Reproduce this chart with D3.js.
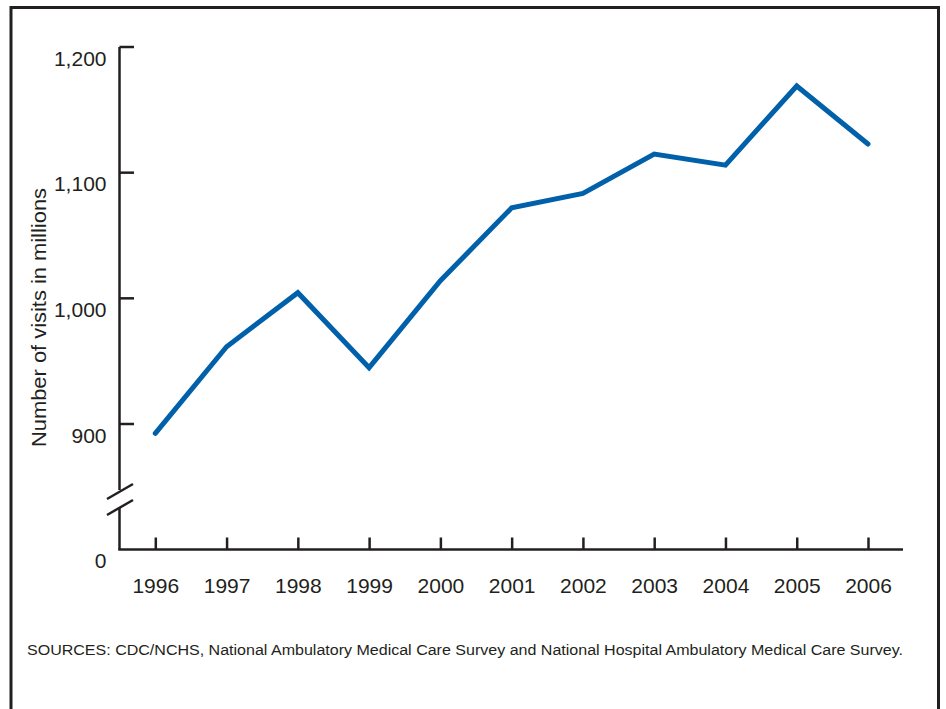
<!DOCTYPE html>
<html>
<head>
<meta charset="utf-8">
<script src="https://cdn.jsdelivr.net/npm/d3@7"></script>
<style>
  body { margin: 0; background: #fff; }
  svg { display: block; font-family: "Liberation Sans", Arial, Helvetica, sans-serif; }
</style>
</head>
<body>
<svg id="chart" width="946" height="709"></svg>
<script>
var years = [1996, 1997, 1998, 1999, 2000, 2001, 2002, 2003, 2004, 2005, 2006];
var visits = [892.5, 961.5, 1004.5, 944.8, 1014, 1072, 1083.5, 1114.8, 1106, 1169, 1122.8];
var yTicks = [900, 1000, 1100, 1200];
var sourceText = "SOURCES: CDC/NCHS, National Ambulatory Medical Care Survey and National Hospital Ambulatory Medical Care Survey.";
var yLabel = "Number of visits in millions";

var ink = "#231f20";
var svg = d3.select("#chart");

//outer frame, open at the bottom
svg.append("path")
    .attr("d", "M11,712V7.5H938.5V712")
    .attr("fill", "none")
    .attr("stroke", ink)
    .attr("stroke-width", 3);

var x = d3.scaleLinear().domain([1996, 2006]).range([155.3, 868]);
var y = d3.scaleLinear().domain([900, 1200]).range([424, 47]);
var axisX = 119.5;
var baseY = 549.5;

//y axis line with a break above zero
svg.append("path")
    .attr("d", "M" + axisX + "," + y(1200) + "V490 M" + axisX + ",507V" + baseY)
    .attr("fill", "none").attr("stroke", ink).attr("stroke-width", 2.5);
svg.append("path")
    .attr("d", "M107,499L133,484 M107,515L133,500")
    .attr("fill", "none").attr("stroke", ink).attr("stroke-width", 2.5);

//y ticks pointing inward
var yt = svg.append("g").selectAll("g").data(yTicks).enter().append("g");
yt.append("line")
    .attr("x1", axisX).attr("x2", 134)
    .attr("y1", function(d) { return y(d); })
    .attr("y2", function(d) { return y(d); })
    .attr("stroke", ink).attr("stroke-width", 2.5);
yt.append("text")
    .attr("x", 106.5)
    .attr("y", function(d) { return y(d) + 18.5; })
    .attr("text-anchor", "end")
    .attr("font-size", 21)
    .attr("fill", ink)
    .text(function(d) { return d3.format(",")(d); });
svg.append("text")
    .attr("x", 106.5).attr("y", baseY + 18.5)
    .attr("text-anchor", "end")
    .attr("font-size", 21)
    .attr("fill", ink)
    .text("0");

//x axis
var xAxis = d3.axisBottom(x)
    .tickValues(years)
    .tickFormat(d3.format("d"))
    .tickSizeInner(-12)
    .tickSizeOuter(0)
    .tickPadding(28.5);
var gx = svg.append("g").attr("transform", "translate(0," + baseY + ")").call(xAxis);
gx.select(".domain").remove();
gx.selectAll(".tick line").attr("stroke", ink).attr("stroke-width", 2.5);
gx.selectAll(".tick text")
    .attr("font-size", 21)
    .attr("font-family", "Liberation Sans, Arial, sans-serif")
    .attr("fill", ink);
svg.append("line")
    .attr("x1", axisX - 1.25).attr("x2", 903)
    .attr("y1", baseY).attr("y2", baseY)
    .attr("stroke", ink).attr("stroke-width", 2.5);

//y label
svg.append("text")
    .attr("transform", "translate(45.5,317.5) rotate(-90)")
    .attr("text-anchor", "middle")
    .attr("font-size", 21)
    .attr("fill", ink)
    .attr("textLength", 259)
    .attr("lengthAdjust", "spacingAndGlyphs")
    .text(yLabel);

//data line
var line = d3.line()
    .x(function(d, i) { return x(years[i]); })
    .y(function(d) { return y(d); });
svg.append("path")
    .datum(visits)
    .attr("d", line)
    .attr("fill", "none")
    .attr("stroke", "#0061aa")
    .attr("stroke-width", 5)
    .attr("stroke-linejoin", "miter")
    .attr("stroke-linecap", "round");

//sources
svg.append("text")
    .attr("x", 27).attr("y", 655)
    .attr("font-size", 15.5)
    .attr("fill", ink)
    .attr("textLength", 876)
    .attr("lengthAdjust", "spacingAndGlyphs")
    .text(sourceText);
</script>
</body>
</html>
